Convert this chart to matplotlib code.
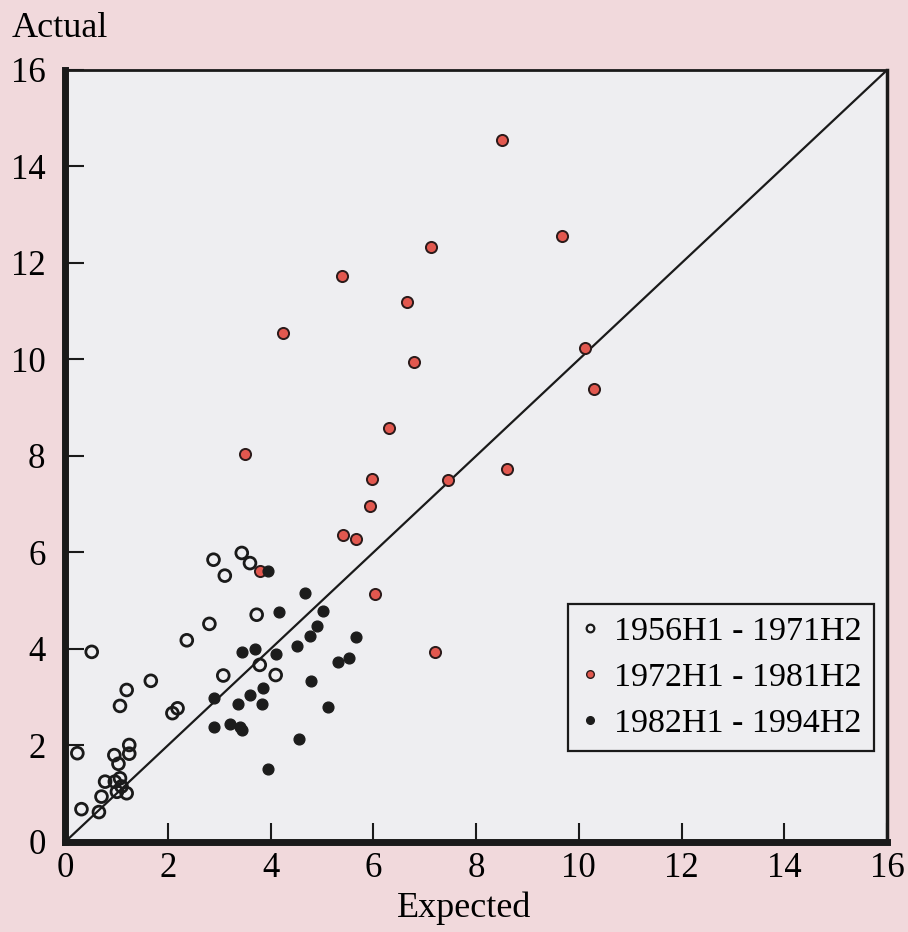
import matplotlib
matplotlib.use('Agg')
import matplotlib.pyplot as plt
from matplotlib.lines import Line2D

plt.rcParams['font.family'] = ['Liberation Serif', 'DejaVu Serif']

# 1956H1 - 1971H2 (open circles)
early_x = [0.52, 2.37, 2.81, 1.67, 1.20, 1.07, 2.19, 2.09, 0.24, 1.25, 1.25, 0.96, 1.04,
           0.78, 0.97, 1.07, 1.10, 1.01, 1.20, 0.71, 0.32, 0.66, 2.89, 3.44, 3.60, 3.11,
           3.73, 3.79, 3.08, 4.10]
early_y = [3.94, 4.18, 4.52, 3.34, 3.15, 2.82, 2.77, 2.67, 1.84, 2.01, 1.83, 1.80, 1.62,
           1.25, 1.25, 1.32, 1.15, 1.04, 1.01, 0.94, 0.68, 0.62, 5.85, 5.99, 5.78, 5.52,
           4.71, 3.67, 3.45, 3.46]

# 1972H1 - 1981H2 (red)
mid_x = [8.51, 9.67, 7.13, 5.39, 6.66, 4.25, 6.80, 10.12, 10.29, 6.30, 3.50, 8.61, 5.97,
         5.93, 5.41, 5.67, 6.03, 3.80, 7.45, 7.20]
mid_y = [14.54, 12.55, 12.33, 11.73, 11.20, 10.55, 9.94, 10.24, 9.39, 8.57, 8.04, 7.73, 7.52,
         6.96, 6.37, 6.27, 5.14, 5.61, 7.50, 3.93]

# 1982H1 - 1994H2 (black)
late_x = [3.96, 4.67, 4.17, 5.03, 4.91, 4.77, 4.51, 3.44, 3.70, 4.10, 5.32, 5.53, 5.67,
          4.78, 3.85, 3.61, 2.90, 3.37, 3.83, 5.12, 2.89, 3.22, 3.40, 3.44, 4.55, 3.96]
late_y = [5.62, 5.17, 4.77, 4.79, 4.47, 4.27, 4.07, 3.93, 4.00, 3.90, 3.73, 3.82, 4.24,
          3.34, 3.20, 3.05, 2.98, 2.86, 2.86, 2.80, 2.38, 2.45, 2.39, 2.32, 2.14, 1.51]

labels = ['1956H1 - 1971H2', '1972H1 - 1981H2', '1982H1 - 1994H2']
ticks = [0, 2, 4, 6, 8, 10, 12, 14, 16]

pink = '#f1d9dc'
panel = '#eeeef1'
red = '#e2584f'

fig = plt.figure(figsize=(9.08, 9.32), dpi=100, facecolor=pink)
ax = fig.add_axes([0.0716, 0.0966, 0.9054, 0.8283], facecolor=panel)

ax.plot([0, 16], [0, 16], color='#1a1a1a', lw=1.6, zorder=1)

ax.scatter(early_x, early_y, s=72, facecolors='none', edgecolors='#1a1a1a', linewidths=2.0, zorder=3)
ax.scatter(mid_x, mid_y, s=64, color=red, edgecolors='#2a1a1a', linewidths=1.4, zorder=4)
ax.scatter(late_x, late_y, s=60, color='#1c1c1c', edgecolors='#1c1c1c', linewidths=1.0, zorder=5)

ax.set_xlim(0, 16)
ax.set_ylim(0, 16)
ax.set_xticks(ticks)
ax.set_yticks(ticks)
ax.tick_params(direction='in', length=14, width=1.5, labelsize=25, color='#1a1a1a')
ax.tick_params(axis='x', pad=7)
ax.tick_params(axis='y', pad=14)

for side, lw in [('left', 5), ('bottom', 5), ('top', 2), ('right', 2.5)]:
    ax.spines[side].set_linewidth(lw)
    ax.spines[side].set_color('#1a1a1a')

handles = [
    Line2D([], [], ls='none', marker='o', ms=5.5, mfc='none', mec='#1a1a1a', mew=1.6),
    Line2D([], [], ls='none', marker='o', ms=5.5, mfc=red, mec='#2a1a1a', mew=1.0),
    Line2D([], [], ls='none', marker='o', ms=5.5, mfc='#1c1c1c', mec='#1c1c1c'),
]
leg = ax.legend(handles, labels, loc='upper left', bbox_to_anchor=(0.612, 0.308),
                borderaxespad=0, fontsize=24.5, frameon=True, fancybox=False,
                handlelength=0.6, handletextpad=0.4, labelspacing=0.45,
                borderpad=0.35, edgecolor='#1a1a1a', facecolor=panel, framealpha=1)
leg.get_frame().set_linewidth(1.6)

fig.text(0.013, 0.960, 'Actual', fontsize=26, va='baseline', ha='left')
fig.text(464 / 908, 0.016, 'Expected', fontsize=26, va='baseline', ha='center')

fig.savefig('out.png', dpi=100, facecolor=pink)
